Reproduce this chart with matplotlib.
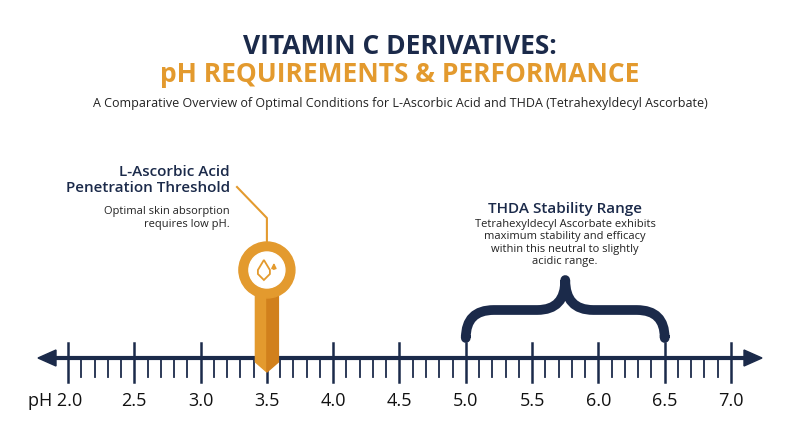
import matplotlib.pyplot as plt
from matplotlib.patches import Polygon, PathPatch, Ellipse
from matplotlib.path import Path

NAVY = "#1b2a4a"
ORANGE = "#e39a2e"
ORANGE_DK = "#d1801c"

PH_MIN, PH_MAX = 2.0, 7.0
MAJOR = [2.0, 2.5, 3.0, 3.5, 4.0, 4.5, 5.0, 5.5, 6.0, 6.5, 7.0]
LABELS = ["pH 2.0", "2.5", "3.0", "3.5", "4.0", "4.5", "5.0", "5.5", "6.0", "6.5", "7.0"]
MINOR = [round(2.0 + 0.1 * i, 1) for i in range(51)]
LAA_PH = 3.5
THDA_RANGE = (5.0, 6.5)

PX = 132.6  # pixels per pH unit
X0 = 68


def px(p):
    return (p - X0) / PX + PH_MIN


fig = plt.figure(figsize=(8, 4.47), dpi=100)
ax = fig.add_axes([0, 0, 1, 1])
ax.set_xlim(px(0), px(800))
ax.set_ylim(447, 0)
ax.axis("off")

fig.text(0.5, 1 - 47 / 447, "VITAMIN C DERIVATIVES:", ha="center", va="center",
         fontsize=19, fontweight="bold", color=NAVY, family="Open Sans")
fig.text(0.5, 1 - 75 / 447, "pH REQUIREMENTS & PERFORMANCE", ha="center", va="center",
         fontsize=19, fontweight="bold", color=ORANGE, family="Open Sans")
fig.text(0.5, 1 - 104 / 447,
         "A Comparative Overview of Optimal Conditions for L-Ascorbic Acid and THDA (Tetrahexyldecyl Ascorbate)",
         ha="center", va="center", fontsize=9, color="#222222", family="Open Sans")

# axis line with arrows
yl = 358
ax.plot([px(50), px(750)], [yl, yl], color=NAVY, lw=3, solid_capstyle="butt")
ax.add_patch(Polygon([[px(38), yl], [px(56), yl - 8], [px(56), yl + 8]], color=NAVY))
ax.add_patch(Polygon([[px(762), yl], [px(744), yl - 8], [px(744), yl + 8]], color=NAVY))
for m in MINOR:
    if any(abs(m - M) < 1e-6 for M in MAJOR):
        continue
    ax.plot([m, m], [yl, 377], color=NAVY, lw=1.3)
for M, lab in zip(MAJOR, LABELS):
    ax.plot([M, M], [343, 382], color=NAVY, lw=1.8)
    dx = -0.1 if lab.startswith("pH") else 0
    ax.text(M + dx, 401, lab, ha="center", va="center", fontsize=13, color="#111111", family="Open Sans")

# THDA bracket
a, b = THDA_RANGE
c = (a + b) / 2
r = 28 / PX
yh = 310
verts = [(a, 335), (a, yh + 28), (a, yh), (a + r, yh),
         (c - r, yh), (c, yh), (c, 280),
         (c, yh), (c + r, yh),
         (b - r, yh), (b, yh), (b, yh + 28), (b, 335)]
codes = [Path.MOVETO, Path.LINETO, Path.CURVE3, Path.CURVE3,
         Path.LINETO, Path.CURVE3, Path.CURVE3,
         Path.CURVE3, Path.CURVE3,
         Path.LINETO, Path.CURVE3, Path.CURVE3, Path.LINETO]
ax.add_patch(PathPatch(Path(verts, codes), fill=False, ec=NAVY, lw=7, capstyle="butt", joinstyle="round"))
ax.text(c, 209, "THDA Stability Range", ha="center", va="center", fontsize=11,
        fontweight="semibold", color=NAVY, family="Open Sans")
ax.text(c, 243, "Tetrahexyldecyl Ascorbate exhibits\nmaximum stability and efficacy\nwithin this neutral to slightly\nacidic range.",
        ha="center", va="center", fontsize=8, color="#222222", family="Open Sans", linespacing=1.15)

# L-ascorbic acid pin
x = LAA_PH
w = 11.5 / PX
ax.plot([x, x, px(237)], [242, 218, 187], color=ORANGE, lw=1.5, zorder=3)
ax.add_patch(Polygon([[x - w, 285], [x, 285], [x, 372], [x - w, 362]], color=ORANGE, zorder=4))
ax.add_patch(Polygon([[x, 285], [x + w, 285], [x + w, 362], [x, 372]], color=ORANGE_DK, zorder=4))
ax.add_patch(Ellipse((x, 270), 56 / PX, 56, color=ORANGE, zorder=5))
ax.add_patch(Ellipse((x, 270), 36 / PX, 36, color="white", zorder=6))
# drop glyph drawn as path
dv = [(x - 3 / PX, 260), (x - 9 / PX, 270), (x - 9 / PX, 274), (x - 3 / PX, 280),
      (x + 3 / PX, 274), (x + 3 / PX, 270), (x - 3 / PX, 260)]
ax.add_patch(Polygon(dv, closed=True, fill=False, ec=ORANGE, lw=1.3, zorder=7))
ax.annotate("", xy=(x + 7 / PX, 260), xytext=(x + 7 / PX, 272),
            arrowprops=dict(arrowstyle="-|>", color=ORANGE, lw=1.2, mutation_scale=7), zorder=7)

ax.text(px(230), 180, "L-Ascorbic Acid\nPenetration Threshold", ha="right", va="center",
        fontsize=11, fontweight="semibold", color=NAVY, family="Open Sans", linespacing=1.1)
ax.text(px(230), 218, "Optimal skin absorption\nrequires low pH.", ha="right", va="center",
        fontsize=8, color="#222222", family="Open Sans", linespacing=1.15)

fig.savefig("out.png", dpi=100)
